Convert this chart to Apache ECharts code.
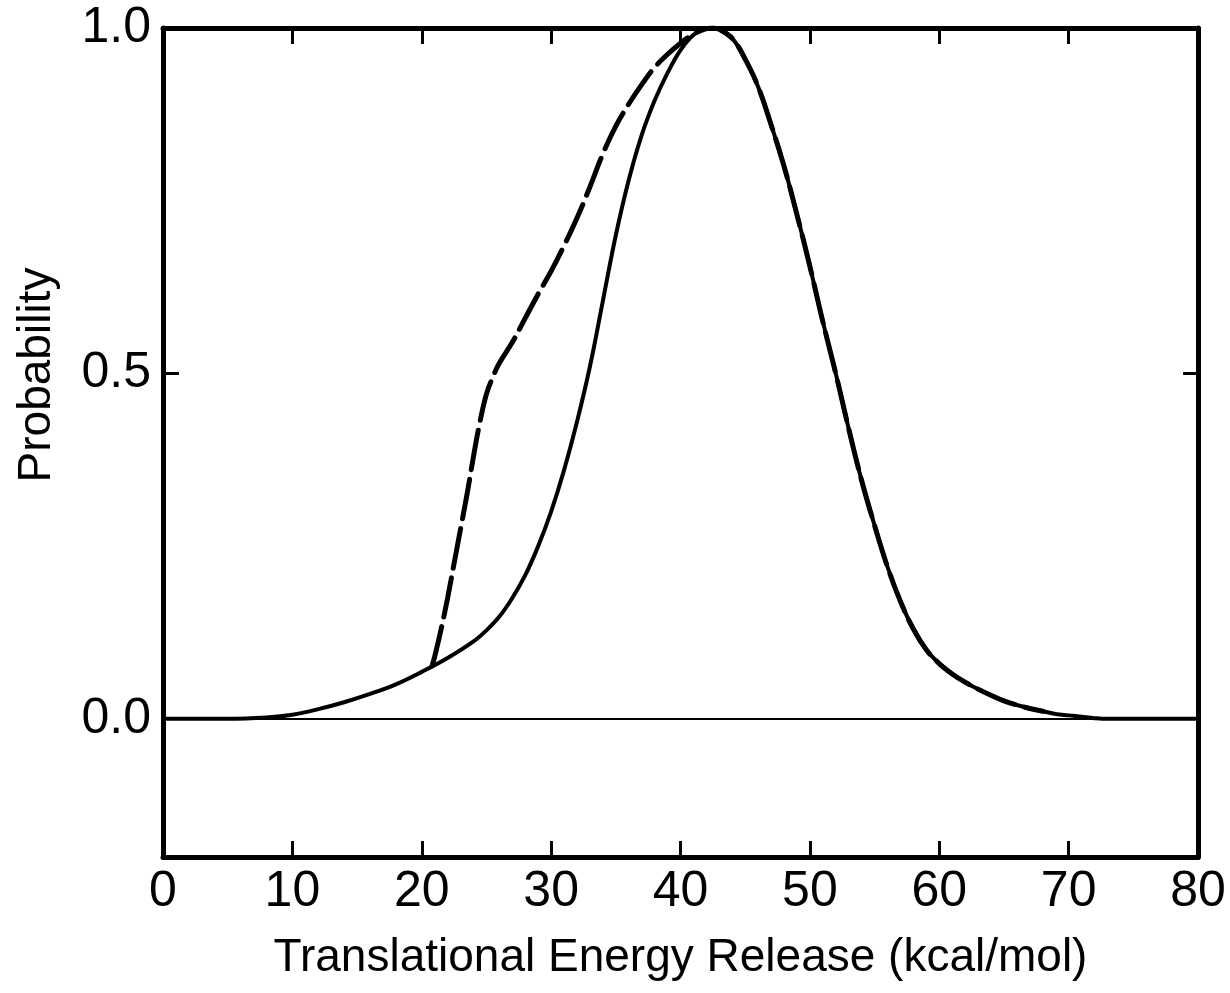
<!DOCTYPE html>
<html>
<head>
<meta charset="utf-8">
<script src="https://cdn.jsdelivr.net/npm/echarts@6/dist/echarts.min.js"></script>
<style>
html,body{margin:0;padding:0;background:#fff;}
#chart{width:1230px;height:993px;}
</style>
</head>
<body>
<div id="chart"></div>
<script>
// Solid curve (energy, probability)
const solidX = [0, 5, 8, 10, 12, 14, 16, 18, 20, 22, 24, 25, 26, 27, 28, 29, 30, 31, 32, 33, 34, 35, 36, 37, 38, 39, 40, 41, 42, 42.5, 43, 44, 45, 46, 47, 48, 49, 50, 51, 52, 53, 54, 55, 56, 57, 58, 59, 60, 61, 62, 63, 64, 65, 66, 67, 68, 69, 70, 71, 72, 73, 80];
const solidY = [0, 0, 0.002, 0.006, 0.014, 0.024, 0.036, 0.05, 0.068, 0.088, 0.112, 0.128, 0.148, 0.175, 0.208, 0.25, 0.30, 0.36, 0.43, 0.51, 0.605, 0.70, 0.78, 0.845, 0.895, 0.935, 0.968, 0.99, 0.999, 1.0, 0.998, 0.985, 0.955, 0.915, 0.86, 0.80, 0.73, 0.655, 0.575, 0.50, 0.42, 0.345, 0.28, 0.22, 0.17, 0.13, 0.10, 0.08, 0.065, 0.053, 0.043, 0.034, 0.026, 0.02, 0.015, 0.011, 0.007, 0.005, 0.003, 0.001, 0, 0];
// Dashed curve
const dashedX = [20.8, 21, 21.5, 22, 22.5, 23, 23.5, 24, 24.5, 25, 25.5, 26, 27, 28, 29, 30, 31, 32, 33, 34, 35, 36, 37, 38, 39, 40, 41, 42, 42.5, 43, 44, 45, 46, 47, 48, 49, 50, 51, 52, 53, 54, 55, 56, 57, 58, 59, 60, 61, 62, 63, 64, 65, 66, 67, 68];
const dashedY = [0.077, 0.09, 0.13, 0.175, 0.225, 0.275, 0.325, 0.38, 0.43, 0.47, 0.495, 0.515, 0.545, 0.58, 0.615, 0.648, 0.685, 0.725, 0.77, 0.818, 0.858, 0.89, 0.918, 0.943, 0.962, 0.978, 0.991, 0.999, 1.0, 0.998, 0.985, 0.955, 0.915, 0.86, 0.80, 0.73, 0.655, 0.575, 0.50, 0.42, 0.345, 0.28, 0.22, 0.17, 0.13, 0.10, 0.08, 0.065, 0.053, 0.043, 0.034, 0.026, 0.02, 0.015, 0.011];
// Tick labels
const xTicks = [0, 10, 20, 30, 40, 50, 60, 70, 80];
const yLabelValues = [0, 0.5, 1.0];
const yTickValues = [0.5];

const FONT = '"Liberation Sans", Arial, sans-serif';
const zip = (xs, ys) => xs.map((x, i) => [x, ys[i]]);

const axisLine = { show: true, onZero: false, lineStyle: { color: '#000', width: 5 } };
const tickStyle = { show: true, inside: true, length: 16, lineStyle: { color: '#000', width: 3 } };

const chart = echarts.init(document.getElementById('chart'), null, { renderer: 'canvas' });
chart.setOption({
  backgroundColor: '#fff',
  animation: false,
  grid: { left: 163, right: 32, top: 28, bottom: 136, containLabel: false },
  xAxis: [{
    type: 'value', min: 0, max: 80, interval: 10, position: 'bottom',
    axisLine: axisLine, axisTick: tickStyle, splitLine: { show: false },
    axisLabel: { show: true, margin: 10, fontSize: 50, color: '#000', fontFamily: FONT,
      customValues: xTicks, formatter: v => String(v) },
    name: 'Translational Energy Release (kcal/mol)', nameLocation: 'middle', nameGap: 78,
    nameTextStyle: { fontSize: 46, color: '#000', fontFamily: FONT }
  }, {
    type: 'value', min: 0, max: 80, interval: 10, position: 'top',
    axisLine: axisLine, axisTick: tickStyle, splitLine: { show: false },
    axisLabel: { show: false }
  }],
  yAxis: [{
    type: 'value', min: -0.2, max: 1.0, position: 'left',
    axisLine: axisLine, splitLine: { show: false },
    axisTick: Object.assign({}, tickStyle, { customValues: yTickValues }),
    axisLabel: { show: true, margin: 12, fontSize: 50, color: '#000', fontFamily: FONT,
      customValues: yLabelValues, formatter: v => v.toFixed(1) }
  }, {
    type: 'value', min: -0.2, max: 1.0, position: 'right',
    axisLine: axisLine, splitLine: { show: false },
    axisTick: Object.assign({}, tickStyle, { length: 15, customValues: yTickValues }),
    axisLabel: { show: false }
  }],
  graphic: [{
    type: 'text', x: 37, y: 375, rotation: Math.PI / 2,
    style: { text: 'Probability', fontSize: 46, fontFamily: FONT, fill: '#000',
      textAlign: 'center', textVerticalAlign: 'middle' }
  }],
  series: [{
    type: 'line', name: 'solid', data: zip(solidX, solidY), smooth: 0.4,
    showSymbol: false, symbol: 'none', clip: true,
    lineStyle: { color: '#000', width: 4, type: 'solid' },
    markLine: { silent: true, symbol: ['none', 'none'], label: { show: false },
      lineStyle: { color: '#000', width: 2, type: 'solid' }, data: [{ yAxis: 0 }] }
  }, {
    type: 'line', name: 'dashed', data: zip(dashedX, dashedY), smooth: 0.4,
    showSymbol: false, symbol: 'none', clip: true,
    lineStyle: { color: '#000', width: 5, type: [40, 10], cap: 'round' }
  }]
});
</script>
</body>
</html>
